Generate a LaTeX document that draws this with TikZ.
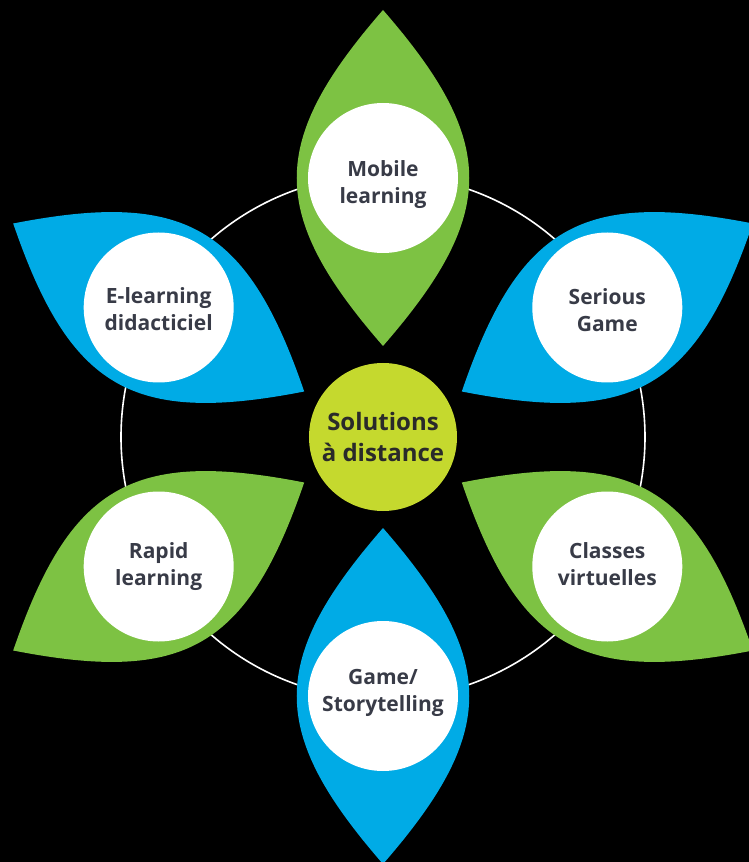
\documentclass[tikz,border=0pt]{standalone}
\usepackage{fontspec}
\setmainfont{Open Sans}
\definecolor{leafgreen}{HTML}{7DC243}
\definecolor{leafblue}{HTML}{00ABE6}
\definecolor{hubgreen}{HTML}{C5D92E}
\definecolor{labelgray}{HTML}{383B47}
\definecolor{hubtext}{HTML}{2A2A2A}
\begin{document}
\begin{tikzpicture}[x=1pt,y=1pt,
  spot/.style={inner sep=0pt, align=center,
    text=labelgray, font=\fontsize{21}{27}\selectfont\bfseries},
  hub/.style={circle, fill=hubgreen, minimum size=148pt, inner sep=0pt, align=center,
    text=hubtext, font=\fontsize{24}{30}\selectfont\bfseries}]
\fill[black] (-383,-425) rectangle (366,437);
\useasboundingbox (-383,-425) rectangle (366,437);

% ring
\draw[white, line width=1.6pt] (0,0) circle (262);

% leaves
\fill[leafgreen, rotate=0] (0,91) .. controls (115,223) and (115,295) .. (0,427) .. controls (-115,295) and (-115,223) .. cycle;
\fill[leafblue, rotate=-60] (0,91) .. controls (115,223) and (115,295) .. (0,427) .. controls (-115,295) and (-115,223) .. cycle;
\fill[leafgreen, rotate=-120] (0,91) .. controls (115,223) and (115,295) .. (0,427) .. controls (-115,295) and (-115,223) .. cycle;
\fill[leafblue, rotate=180] (0,91) .. controls (115,223) and (115,295) .. (0,427) .. controls (-115,295) and (-115,223) .. cycle;
\fill[leafgreen, rotate=120] (0,91) .. controls (115,223) and (115,295) .. (0,427) .. controls (-115,295) and (-115,223) .. cycle;
\fill[leafblue, rotate=60] (0,91) .. controls (115,223) and (115,295) .. (0,427) .. controls (-115,295) and (-115,223) .. cycle;

% white discs
\fill[white] (90:259) circle (75);
\fill[white] (30:259) circle (75);
\fill[white] (-30:259) circle (75);
\fill[white] (-90:259) circle (75);
\fill[white] (-150:259) circle (75);
\fill[white] (150:259) circle (75);

\node[hub] at (0,0) (hub) {Solutions\\à distance};
\node[spot, yshift=-7] at (90:259) (mobile) {Mobile\\learning};
\node[spot, yshift=-3] at (30:259) (serious) {Serious\\Game};
\node[spot, yshift=2] at (-30:259) (classes) {Classes\\virtuelles};
\node[spot, yshift=3] at (-90:259) (game) {Game/\\Storytelling};
\node[spot] at (-150:259) (rapid) {Rapid\\learning};
\node[spot, yshift=-2] at (150:259) (elearning) {E-learning\\didacticiel};

\end{tikzpicture}
\end{document}
